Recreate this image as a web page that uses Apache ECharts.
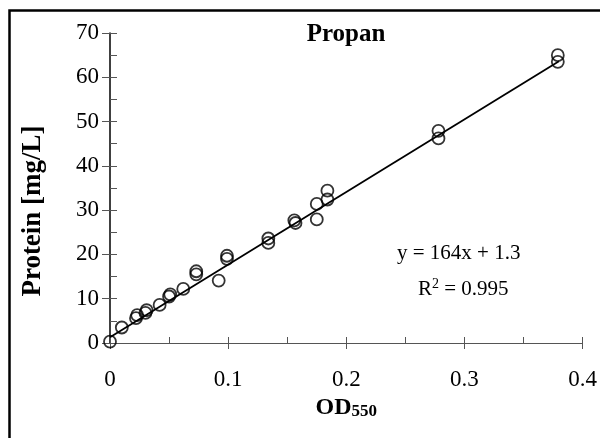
<!DOCTYPE html>
<html>
<head>
<meta charset="utf-8">
<title>Propan</title>
<script src="https://cdn.jsdelivr.net/npm/echarts@6/dist/echarts.min.js"></script>
<style>
  html,body{margin:0;padding:0;background:#fff}
  #chart{width:600px;height:438px}
</style>
</head>
<body>
<div id="chart"></div>
<script>
// OD550 readings and protein concentrations
var odValues = [0, 0.010, 0.022, 0.023, 0.030, 0.031, 0.042, 0.050, 0.051, 0.062, 0.073, 0.073, 0.092, 0.099, 0.099,
                0.134, 0.134, 0.156, 0.157, 0.175, 0.175, 0.184, 0.184, 0.278, 0.278, 0.379, 0.379];
var proteinValues = [0.3, 3.5, 5.6, 6.3, 6.8, 7.4, 8.6, 10.5, 11.0, 12.2, 15.5, 16.2, 14.1, 19.0, 19.7,
                     23.6, 22.6, 27.7, 27.1, 31.4, 27.9, 34.4, 32.4, 47.9, 46.2, 65.0, 63.5];
// trendline end points (y = 164x + 1.3)
var trendX = [0, 0.38];
var trendY = [1.3, 63.6];
var xTicks = [0, 0.1, 0.2, 0.3, 0.4];
var yTicks = [0, 10, 20, 30, 40, 50, 60, 70];

var font = '"Liberation Serif", "Times New Roman", serif';
var points = odValues.map(function (v, i) { return [v, proteinValues[i]]; });
var trend = trendX.map(function (v, i) { return [v, trendY[i]]; });

var myChart = echarts.init(document.getElementById('chart'));
var option = {
  animation: false,
  title: {
    text: 'Propan',
    left: 341, top: 17, textAlign: 'center',
    textStyle: {fontFamily: font, fontSize: 25, fontWeight: 'bold', color: '#000'}
  },
  grid: {left: 110, right: 14, top: 33, bottom: 95},
  xAxis: [{
    type: 'value', min: xTicks[0], max: xTicks[xTicks.length - 1], interval: 0.1,
    position: 'bottom',
    name: '{a|OD}{b|550}', nameLocation: 'middle', nameGap: 50,
    nameTextStyle: {
      rich: {
        a: {fontFamily: font, fontSize: 24, fontWeight: 'bold', color: '#000'},
        b: {fontFamily: font, fontSize: 17, fontWeight: 'bold', color: '#000', verticalAlign: 'bottom', padding: [7, 0, 0, 0]}
      }
    },
    axisLine: {show: true, onZero: false, lineStyle: {color: '#555', width: 1}},
    axisTick: {show: true, inside: true, length: 6, lineStyle: {color: '#555'}},
    minorTick: {show: true, splitNumber: 2, length: 6, lineStyle: {color: '#555'}},
    splitLine: {show: false},
    axisLabel: {margin: 25, fontFamily: font, fontSize: 23, color: '#000',
      formatter: function (v) { return String(v); }}
  }, {
    type: 'value', min: xTicks[0], max: xTicks[xTicks.length - 1], interval: 0.1,
    position: 'bottom',
    axisLine: {show: false},
    axisTick: {show: true, inside: false, length: 6, lineStyle: {color: '#555'}},
    splitLine: {show: false},
    axisLabel: {show: false}
  }],
  yAxis: [{
    type: 'value', min: yTicks[0], max: yTicks[yTicks.length - 1], interval: 10,
    position: 'left',
    axisLine: {show: true, onZero: false, lineStyle: {color: '#000', width: 1.5}},
    axisTick: {show: true, inside: true, length: 7, lineStyle: {color: '#555'}},
    minorTick: {show: true, splitNumber: 2, length: 7, lineStyle: {color: '#555'}},
    splitLine: {show: false},
    axisLabel: {margin: 11, fontFamily: font, fontSize: 23, color: '#000'}
  }, {
    type: 'value', min: yTicks[0], max: yTicks[yTicks.length - 1], interval: 10,
    position: 'left',
    axisLine: {show: false},
    axisTick: {show: true, inside: false, length: 8, lineStyle: {color: '#555'}},
    splitLine: {show: false},
    axisLabel: {show: false}
  }],
  series: [{
    type: 'line', data: trend, xAxisIndex: 0, yAxisIndex: 0,
    showSymbol: false, symbol: 'none',
    lineStyle: {color: '#000', width: 1.8}
  }, {
    type: 'scatter', data: points, xAxisIndex: 0, yAxisIndex: 0,
    symbol: 'circle', symbolSize: 12,
    itemStyle: {color: 'rgba(0,0,0,0)', borderColor: '#000', borderWidth: 1.8}
  }],
  graphic: [{
    type: 'rect', silent: true,
    shape: {x: 9.5, y: 10.5, width: 800, height: 600},
    style: {fill: 'none', stroke: '#000', lineWidth: 2.5}
  }, {
    type: 'text', x: 33, y: 211, rotation: Math.PI / 2,
    style: {text: 'Protein [mg/L]', font: 'bold 27px ' + font, fill: '#000',
      align: 'center', verticalAlign: 'middle'}
  }, {
    type: 'text', left: 397, top: 243,
    style: {text: 'y = 164x + 1.3', font: '21px ' + font, fill: '#000'}
  }, {
    type: 'text', left: 418, top: 277,
    style: {
      text: '{r|R}{s|2}{r| = 0.995}',
      rich: {
        r: {fontFamily: font, fontSize: 21, color: '#000'},
        s: {fontFamily: font, fontSize: 14, color: '#000', verticalAlign: 'top', padding: [0, 0, 10, 0]}
      }
    }
  }]
};
myChart.setOption(option);
</script>
</body>
</html>
